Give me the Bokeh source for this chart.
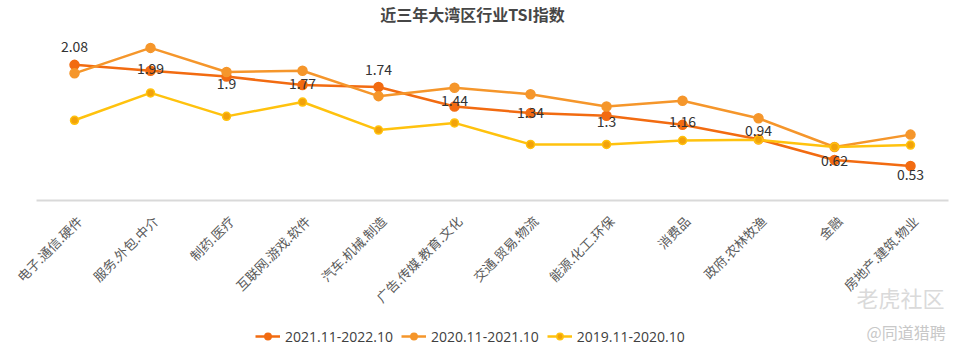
from bokeh.plotting import figure
from bokeh.models import ColumnDataSource, Legend, LegendItem, Range1d, Label
from bokeh.core.properties import value
from bokeh.embed import file_html
from bokeh.resources import INLINE
import math

categories = ["电子.通信.硬件", "服务.外包.中介", "制药.医疗", "互联网.游戏.软件", "汽车.机械.制造",
              "广告.传媒.教育.文化", "交通.贸易.物流", "能源.化工.环保", "消费品", "政府.农林牧渔",
              "金融", "房地产.建筑.物业"]
series_names = ["2021.11-2022.10", "2020.11-2021.10", "2019.11-2020.10"]
tsi_2022 = [2.08, 1.99, 1.9, 1.77, 1.74, 1.44, 1.34, 1.3, 1.16, 0.94, 0.62, 0.53]
tsi_2021 = [1.95, 2.34, 1.97, 1.99, 1.60, 1.73, 1.63, 1.44, 1.53, 1.26, 0.82, 1.01]
tsi_2020 = [1.23, 1.65, 1.29, 1.51, 1.08, 1.19, 0.86, 0.86, 0.92, 0.93, 0.82, 0.85]
title_text = "近三年大湾区行业TSI指数"

# styling / layout (screen pixel offsets of the value labels)
label_dy = [-18, -2, 7, -2, -18, -6, -1, 6, -3, -9, 0, 9]
colors = ["#F26B11", "#F5962B", "#FFC20E"]
marker_fill = ["#F26B11", "#F5962B", "#F2A20A"]
FONT = "Noto Sans CJK SC"
W, H = 974, 353

n = len(categories)
xs = list(range(n))

p = figure(width=W, height=H, x_range=Range1d(-0.974, 11.842), y_range=Range1d(-2.347, 3.067),
           output_backend="svg", toolbar_location=None,
           min_border_left=0, min_border_right=0, min_border_top=0, min_border_bottom=0)
p.outline_line_color = None
p.background_fill_color = "white"
p.border_fill_color = "white"
p.xgrid.visible = False
p.ygrid.visible = False
p.xaxis.visible = False
p.yaxis.visible = False

# category axis line and rotated category labels
p.line(x=[-0.5, n - 0.5], y=[0, 0], line_color="#D9D9D9", line_width=2)
csrc = ColumnDataSource(dict(x=xs, y=[0] * n, t=categories))
p.text("x", "y", text="t", source=csrc, angle=math.pi / 4, x_offset=5, y_offset=18,
       text_align="right", text_baseline="middle",
       text_font=value(FONT), text_font_size="13px", text_color="#595959")

items = []
for vals, name, c, mf, sz in zip([tsi_2022, tsi_2021, tsi_2020], series_names, colors, marker_fill, [9, 9, 8]):
    src = ColumnDataSource(dict(x=xs, y=vals))
    r1 = p.line("x", "y", source=src, line_color=c, line_width=2.5)
    r2 = p.scatter("x", "y", source=src, size=sz, fill_color=mf, line_color=c, line_width=1.5)
    items.append(LegendItem(label=name, renderers=[r1, r2]))

lsrc = ColumnDataSource(dict(x=xs, y=tsi_2022, t=[f"{v:g}" for v in tsi_2022], dy=label_dy))
p.text("x", "y", text="t", source=lsrc, y_offset="dy", text_align="center", text_baseline="middle",
       text_font=value(FONT), text_font_size="14px", text_color="#333333")

legend = Legend(items=items, orientation="horizontal", location=(255, 7),
                label_text_font="Open Sans", label_text_font_size="14px", label_text_color="#404040",
                glyph_width=25, glyph_height=16, label_height=20, label_standoff=5, spacing=8,
                padding=0, margin=0, border_line_color=None, background_fill_alpha=0)
p.add_layout(legend, "center")

p.add_layout(Label(x=472, y=H - 13, x_units="screen", y_units="screen", text=title_text,
                   text_align="center", text_baseline="middle", text_font=FONT,
                   text_font_size="16px", text_font_style="bold", text_color="#464646"))
p.add_layout(Label(x=856, y=H - 296, x_units="screen", y_units="screen", text="老虎社区",
                   text_baseline="middle", text_font=FONT, text_font_size="22px", text_color="#DADADA"))
p.add_layout(Label(x=866, y=H - 331, x_units="screen", y_units="screen", text="@同道猎聘",
                   text_baseline="middle", text_font=FONT, text_font_size="16px", text_color="#C8C8C8"))

open("out.html", "w").write(file_html(p, INLINE))
